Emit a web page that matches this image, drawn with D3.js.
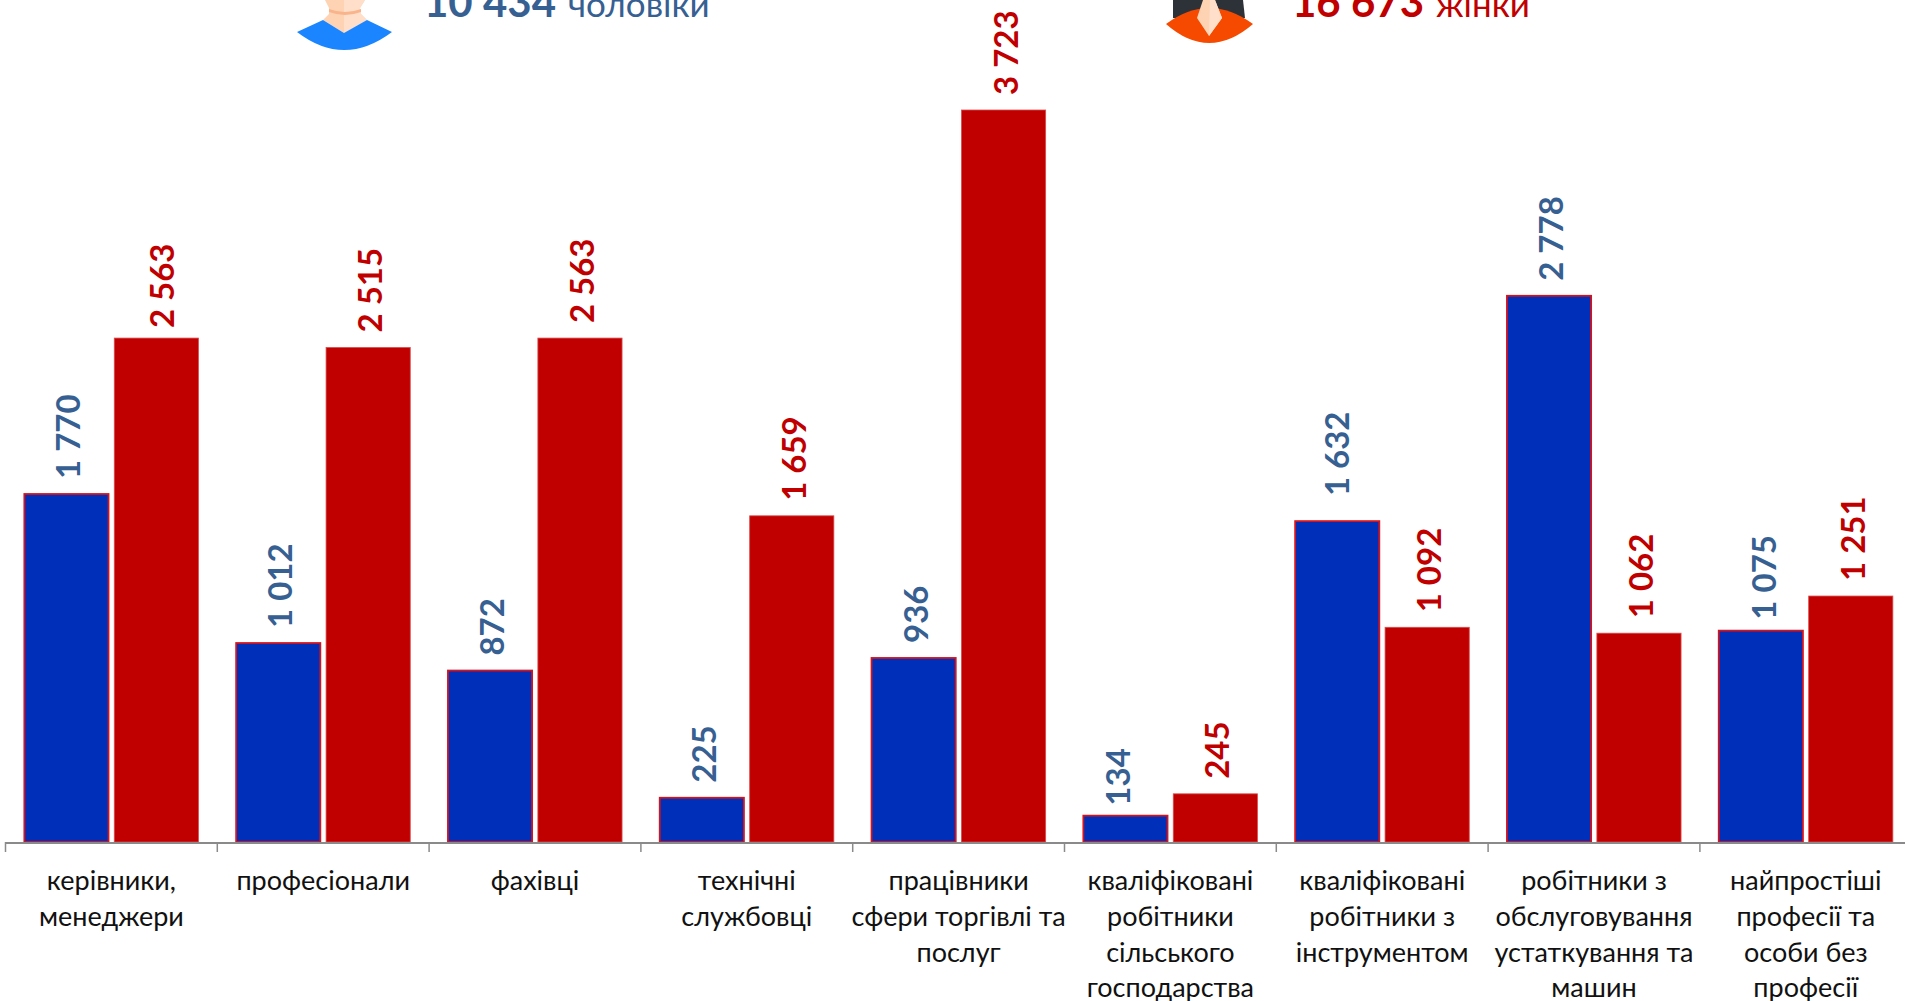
<!DOCTYPE html>
<html>
<head>
<meta charset="utf-8">
<script src="https://cdn.jsdelivr.net/npm/d3@7"></script>
<style>
  html, body { margin: 0; padding: 0; background: #fff; overflow: hidden; }
  text { font-family: Lato, "Open Sans", sans-serif; }
</style>
</head>
<body>
<svg id="chart" width="1905" height="1001"></svg>
<script>
var categories = [
  ["керівники,", "менеджери"],
  ["професіонали"],
  ["фахівці"],
  ["технічні", "службовці"],
  ["працівники", "сфери торгівлі та", "послуг"],
  ["кваліфіковані", "робітники", "сільського", "господарства"],
  ["кваліфіковані", "робітники з", "інструментом"],
  ["робітники з", "обслуговування", "устаткування та", "машин"],
  ["найпростіші", "професії та", "особи без", "професії"]
];
var men = [1770, 1012, 872, 225, 936, 134, 1632, 2778, 1075];
var women = [2563, 2515, 2563, 1659, 3723, 245, 1092, 1062, 1251];
var seriesNames = ["men", "women"];

var menTotal = "10 434", womenTotal = "16 673";

var blue = "#002fb9", red = "#c00000", blueText = "#376092";

// labels that were dragged by hand in the original
var labelNudge = {"women0": [4, 5], "men5": [-9, 5], "men6": [-2, -10], "men8": [1, 4]};

var svg = d3.select("#chart");
var fmt = d3.formatLocale({decimal: ",", thousands: " ", grouping: [3], currency: ["", ""]}).format(",d");

var x0 = d3.scaleBand().domain(d3.range(categories.length)).range([5.5, 5.5 + 9 * 211.8]).paddingInner(0.178).paddingOuter(0.089);
var x1 = d3.scaleBand().domain(seriesNames).range([0, x0.bandwidth()]).paddingInner(0.064);
var y = d3.scaleLinear().domain([0, 3723]).range([842, 110]);

var groups = svg.selectAll("g.cat").data(categories).enter().append("g")
  .attr("class", "cat")
  .attr("transform", function(d, i) { return "translate(" + x0(i) + ",0)"; });

// bars and rotated labels
groups.each(function(d, i) {
  var g = d3.select(this);
  var vals = [{k: "men", v: men[i]}, {k: "women", v: women[i]}];
  g.selectAll("rect").data(vals).enter().append("rect")
    .attr("x", function(p) { return x1(p.k); })
    .attr("y", function(p) { return y(p.v); })
    .attr("width", x1.bandwidth())
    .attr("height", function(p) { return y(0) - y(p.v); })
    .attr("fill", function(p) { return p.k == "men" ? blue : red; })
    .attr("stroke", function(p) { return p.k == "men" ? "#d2141e" : "#dc4a4a"; })
    .attr("stroke-width", function(p) { return p.k == "men" ? 1.8 : 0.8; });
  g.selectAll("text.val").data(vals).enter().append("text")
    .attr("class", "val")
    .attr("transform", function(p) {
      var n = labelNudge[p.k + i] || [0, 0];
      return "translate(" + (x1(p.k) + x1.bandwidth() / 2 + 2.5 + n[0]) + "," + (y(p.v) - 15 + n[1]) + ") rotate(-90)";
    })
    .attr("dy", "0.35em")
    .attr("font-size", 33)
    .attr("font-weight", 700)
    .attr("fill", function(p) { return p.k == "men" ? blueText : red; })
    .text(function(p) { return fmt(p.v); });
});

// axis line with ticks on the category edges
var axis = svg.append("g");
axis.append("line").attr("x1", x0.range()[0]).attr("x2", x0.range()[1]).attr("y1", y(0) + 1).attr("y2", y(0) + 1)
  .attr("stroke", "#8a8a8a").attr("stroke-width", 2);
axis.selectAll("line.tick").data(d3.range(categories.length + 1)).enter().append("line")
  .attr("class", "tick")
  .attr("x1", function(i) { return x0.range()[0] + i * x0.step(); })
  .attr("x2", function(i) { return x0.range()[0] + i * x0.step(); })
  .attr("y1", y(0)).attr("y2", y(0) + 10)
  .attr("stroke", "#8a8a8a").attr("stroke-width", 1.5);

// category labels
groups.append("text")
  .attr("text-anchor", "middle")
  .attr("font-size", 27)
  .attr("fill", "#111")
  .selectAll("tspan").data(function(d) { return d; }).enter().append("tspan")
  .attr("x", x0.bandwidth() / 2)
  .attr("y", function(d, i) { return 890 + i * 35.8; })
  .text(function(d) { return d; });

// header
function header(xx, total, word, col) {
  var t = svg.append("text").attr("x", xx).attr("y", 17).attr("fill", col).attr("font-size", 35);
  t.append("tspan").attr("font-weight", 700).attr("font-size", 42).text(total);
  t.append("tspan").attr("dx", 12).text(word);
}
header(424, menTotal, "чоловіки", blueText);
header(1292, womenTotal, "жінки", red);

// man icon
var man = svg.append("g");
man.append("path").attr("d", "M325,0 L365,0 L360,8 L361,14 L367,20 L344,33 L323,20 L329,14 L329,8 Z").attr("fill", "#fdd3b3");
man.append("path").attr("d", "M344,0 L365,0 L360,8 L361,14 L367,20 L344,33 Z").attr("fill", "#ffdfc9");
man.append("path").attr("d", "M329,9 Q345,15 361,9 L361,12 Q345,18 329,12 Z").attr("fill", "#f9b48c");
man.append("path").attr("d", "M297,32 L323,20 L344,33 L367,20 L392,32 Q344,68 297,32 Z").attr("fill", "#1a85ff");

// woman icon
var woman = svg.append("g");
woman.append("path").attr("d", "M1173,0 L1243,0 L1245,18 L1173,18 Z").attr("fill", "#2d3238");
woman.append("path").attr("d", "M1166,24 Q1209,-8 1253,24 Q1209,62 1166,24 Z").attr("fill", "#f54a00");
woman.append("path").attr("d", "M1203,0 L1215,0 L1222,18 L1209,36 L1197,18 Z").attr("fill", "#fdd3b3");
woman.append("path").attr("d", "M1210,0 L1215,0 L1222,18 L1209,36 Z").attr("fill", "#ffdfc9");
</script>
</body>
</html>
